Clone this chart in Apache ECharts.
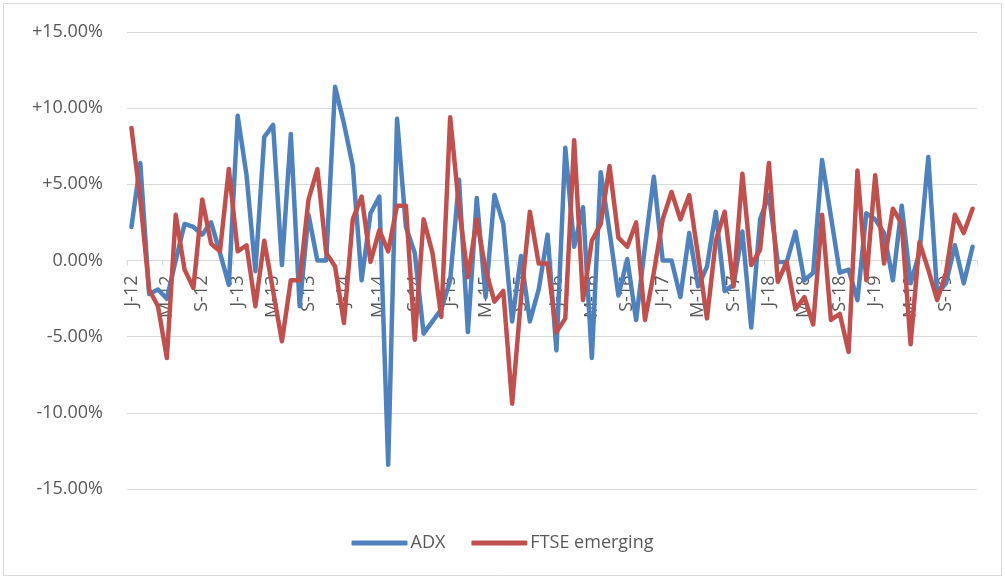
<!DOCTYPE html>
<html>
<head>
<meta charset="utf-8">
<script src="https://cdn.jsdelivr.net/npm/echarts@6/dist/echarts.min.js"></script>
<style>
  html, body { margin: 0; padding: 0; background: #fff; }
  #main { width: 1005px; height: 579px; }
</style>
</head>
<body>
<div id="main"></div>
<script>
var monthLetters = ['J', 'F', 'M', 'A', 'M', 'J', 'J', 'A', 'S', 'O', 'N', 'D'];
var years = ['12', '13', '14', '15', '16', '17', '18', '19'];

var adx = [
    2.2, 6.4, -2.2, -1.9, -2.5, 0.0, 2.4, 2.2, 1.7, 2.5, 0.5, -1.6,
    9.5, 5.6, -0.7, 8.1, 8.9, -0.3, 8.3, -3.0, 3.0, 0.0, 0.0, 11.4,
    9.0, 6.2, -1.3, 3.1, 4.2, -13.4, 9.3, 2.2, 0.5, -4.8, -4.0, -3.2,
    -1.3, 5.3, -4.7, 4.1, -2.4, 4.3, 2.4, -4.0, 0.3, -4.0, -1.9, 1.7,
    -5.9, 7.4, 0.9, 3.5, -6.4, 5.8, 1.9, -2.3, 0.1, -3.9, 0.9, 5.5,
    0.0, 0.0, -2.4, 1.8, -1.7, -0.4, 3.2, -2.0, -1.6, 1.9, -4.4, 2.7,
    4.3, -0.1, -0.1, 1.9, -1.3, -0.8, 6.6, 2.9, -0.8, -0.6, -2.6, 3.1,
    2.7, 1.8, -1.3, 3.6, -1.5, 0.5, 6.8, -2.2, -1.5, 1.0, -1.5, 0.9
];

var ftse = [
    8.7, 4.0, -1.9, -3.0, -6.4, 3.0, -0.6, -1.8, 4.0, 1.1, 0.6, 6.0,
    0.6, 1.0, -3.0, 1.3, -2.0, -5.3, -1.3, -1.3, 4.0, 6.0, 0.5, -0.4,
    -4.1, 2.7, 4.2, -0.1, 2.0, 0.6, 3.6, 3.6, -5.2, 2.7, 0.5, -3.7,
    9.4, 3.5, -1.1, 2.7, -0.6, -2.7, -2.0, -9.4, -2.5, 3.2, -0.2, -0.2,
    -4.7, -3.8, 7.9, -2.6, 1.3, 2.4, 6.2, 1.5, 0.9, 2.5, -3.9, -0.8,
    2.7, 4.5, 2.7, 4.3, 0.3, -3.8, 1.3, 3.2, -1.7, 5.7, -0.3, 0.7,
    6.4, -1.4, -0.1, -3.2, -2.4, -4.2, 3.0, -3.9, -3.5, -6.0, 5.9, -1.3,
    5.6, -0.2, 3.4, 2.4, -5.5, 1.2, -0.6, -2.6, -0.8, 3.0, 1.8, 3.4
];

var categories = [];
years.forEach(function (y) {
    monthLetters.forEach(function (m) {
        categories.push(m + '-' + y);
    });
});

var myChart = echarts.init(document.getElementById('main'));

// plot area: top 32, bottom 489 -> zero line sits half way
var gridTop = 32, gridBottom = 90;
var plotH = 579 - gridTop - gridBottom;
var font = 'Open Sans';

var option = {
    animation: false,
    graphic: [{
        type: 'rect',
        shape: { x: 3.5, y: 3.5, width: 998, height: 572 },
        style: { fill: 'none', stroke: '#d9d9d9', lineWidth: 1 },
        silent: true
    }],
    grid: {
        left: 127,
        right: 28,
        top: gridTop,
        bottom: gridBottom,
        outerBoundsMode: 'none'
    },
    legend: {
        left: 'center',
        top: 529,
        itemWidth: 56,
        itemHeight: 5,
        itemGap: 26,
        icon: 'roundRect',
        data: ['ADX', 'FTSE emerging'],
        textStyle: {
            color: '#595959',
            fontSize: 18,
            fontFamily: font,
            padding: [0, 0, 0, -2]
        }
    },
    xAxis: {
        type: 'category',
        data: categories,
        boundaryGap: true,
        offset: -plotH / 2,
        axisLine: {
            onZero: false,
            lineStyle: { color: '#d9d9d9', width: 1 }
        },
        axisTick: {
            show: true,
            interval: 3,
            length: 5,
            lineStyle: { color: '#d9d9d9' }
        },
        axisLabel: {
            interval: 3,
            rotate: 90,
            margin: 15,
            color: '#595959',
            fontSize: 18,
            fontFamily: font
        },
        splitLine: { show: false }
    },
    yAxis: {
        type: 'value',
        min: -15,
        max: 15,
        interval: 5,
        axisLine: { show: false },
        axisTick: { show: false },
        axisLabel: {
            margin: 24,
            color: '#595959',
            fontSize: 18,
            fontFamily: font,
            formatter: function (v) {
                return (v > 0 ? '+' : '') + v.toFixed(2) + '%';
            }
        },
        splitLine: {
            lineStyle: { color: '#d9d9d9', width: 1 }
        }
    },
    series: [
        {
            name: 'ADX',
            type: 'line',
            data: adx,
            showSymbol: false,
            symbol: 'none',
            itemStyle: { color: '#4f81bd' },
            lineStyle: { color: '#4f81bd', width: 4.5, join: 'round', cap: 'round' }
        },
        {
            name: 'FTSE emerging',
            type: 'line',
            data: ftse,
            showSymbol: false,
            symbol: 'none',
            itemStyle: { color: '#c0504d' },
            lineStyle: { color: '#c0504d', width: 4.5, join: 'round', cap: 'round' }
        }
    ]
};

myChart.setOption(option, true);
</script>
</body>
</html>
